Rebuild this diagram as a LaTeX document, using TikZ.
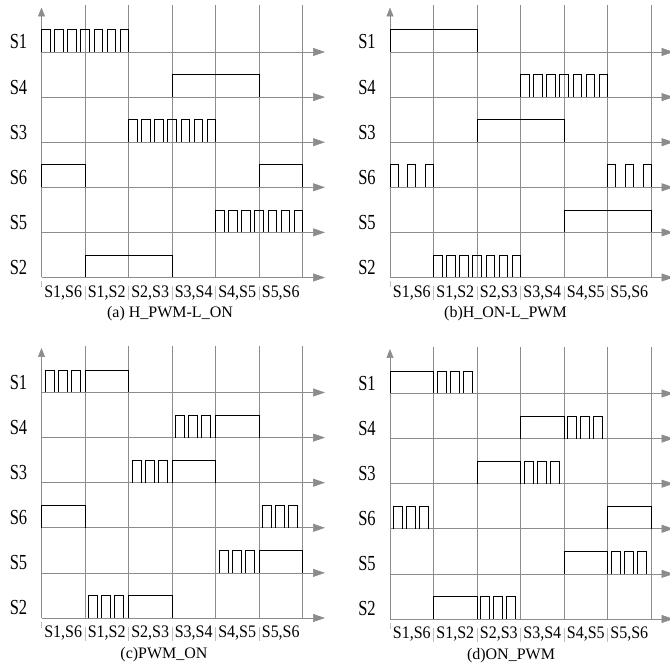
\documentclass[tikz,border=0pt]{standalone}
\usepackage{fontspec}
\setmainfont{Liberation Serif}
\usetikzlibrary{arrows.meta}

\colorlet{gridgray}{black!45}
\colorlet{sepgray}{black!25}

\newcommand{\colw}{43.5}
\newcommand{\rowh}{45.1}
\newcommand{\pulseh}{22.5}

% row #1 is high from column #2 to column #3
\newcommand{\onlevel}[3]{\draw[wave] ({#2*\colw},{#1*\rowh}) |- ({#3*\colw},{#1*\rowh+\pulseh}) -- ({#3*\colw},{#1*\rowh});}
% row #1, first pulse at x=#2, #3 pulses, high width #4, period #5
\newcommand{\pwmtrain}[5]{\foreach \k in {1,...,#3}{\draw[wave] ({#2+(\k-1)*#5},{#1*\rowh}) |- ++(#4,\pulseh) -- ++(0,-\pulseh);}}

\tikzset{
  grid/.style={draw=gridgray, line width=0.7pt},
  axis/.style={draw=gridgray, line width=0.7pt, -{Triangle[length=12pt,width=8pt]}},
  yarrow/.style={draw=gridgray, line width=0.7pt, -{Triangle[length=9pt,width=7pt]}},
  wave/.style={draw=black, line width=0.7pt},
  sep/.style={draw=sepgray, line width=0.6pt},
  sig/.style={font=\fontsize{16.5}{16.5}\selectfont, inner sep=0pt},
  phase/.style={font=\fontsize{16}{16}\selectfont, inner sep=0pt},
  caption/.style={font=\fontsize{16}{16}\selectfont, inner sep=0pt}
}

\begin{document}
\begin{tikzpicture}[x=1pt, y=1pt]
\useasboundingbox (0,0) rectangle (670,666);

% axes, grid and labels of the four panels
\foreach \p/\ox/\oy/\capx/\captext in {a/41.5/388.5/128.5/{(a) H\_PWM-L\_ON}, b/390/388.5/115.5/{(b)H\_ON-L\_PWM}, c/41.5/48/122.5/{(c)PWM\_ON}, d/390/47/121/{(d)ON\_PWM}}{
  \begin{scope}[shift={(\ox,\oy)}]
    \foreach \i in {1,...,6}
      \draw[grid] ({\i*\colw},0) -- ({\i*\colw},272);
    \foreach \r in {0,...,5}
      \draw[axis] (0,{\r*\rowh}) -- (283.5,{\r*\rowh});
    \draw[yarrow] (0,0) -- (0,270);
    \foreach \s [count=\r from 0] in {S2,S5,S6,S3,S4,S1}
      \node[sig] (\p-\s) at (-23,{\r*\rowh+10}) {\scalebox{1}[1.3]{\s}};
    \foreach \t [count=\i from 0] in {{S1,S6},{S1,S2},{S2,S3},{S3,S4},{S4,S5},{S5,S6}}
      \node[phase] (\p-t\i) at ({(\i+0.5)*\colw},-15.5) {\scalebox{1}[1.1]{\t}};
    \foreach \i in {1,...,5}
      \draw[sep] ({\i*\colw},-9) -- ({\i*\colw},-23);
    \draw[sep] (0,-4) -- (0,-10);
    \node[caption] (\p-cap) at (\capx,-36.5) {\captext};
  \end{scope}
}

% (a) H_PWM-L_ON
\begin{scope}[shift={(41.5,388.5)}]
  \pwmtrain{5}{0}{7}{8.5}{13.1}
  \onlevel{4}{3}{5}
  \pwmtrain{3}{2*\colw}{7}{8.5}{13.1}
  \onlevel{2}{0}{1}
  \onlevel{2}{5}{6}
  \pwmtrain{1}{4*\colw}{7}{8.5}{13.1}
  \onlevel{0}{1}{3}
\end{scope}

% (b) H_ON-L_PWM
\begin{scope}[shift={(390,388.5)}]
  \onlevel{5}{0}{2}
  \pwmtrain{4}{3*\colw}{7}{8.5}{13.1}
  \onlevel{3}{2}{4}
  \pwmtrain{2}{0}{3}{8}{17.75}
  \pwmtrain{2}{5*\colw}{3}{8}{17.75}
  \onlevel{1}{4}{6}
  \pwmtrain{0}{1*\colw}{7}{8.5}{13.1}
\end{scope}

% (c) PWM_ON
\begin{scope}[shift={(41.5,48)}]
  \pwmtrain{5}{0*\colw+3.5}{3}{9}{13}
  \onlevel{5}{1}{2}
  \pwmtrain{4}{3*\colw+3.5}{3}{9}{13}
  \onlevel{4}{4}{5}
  \pwmtrain{3}{2*\colw+3.5}{3}{9}{13}
  \onlevel{3}{3}{4}
  \onlevel{2}{0}{1}
  \pwmtrain{2}{5*\colw+3.5}{3}{9}{13}
  \pwmtrain{1}{4*\colw+3.5}{3}{9}{13}
  \onlevel{1}{5}{6}
  \pwmtrain{0}{1*\colw+3.5}{3}{9}{13}
  \onlevel{0}{2}{3}
\end{scope}

% (d) ON_PWM
\begin{scope}[shift={(390,47)}]
  \onlevel{5}{0}{1}
  \pwmtrain{5}{1*\colw+3.5}{3}{9}{13}
  \onlevel{4}{3}{4}
  \pwmtrain{4}{4*\colw+3.5}{3}{9}{13}
  \onlevel{3}{2}{3}
  \pwmtrain{3}{3*\colw+3.5}{3}{9}{13}
  \pwmtrain{2}{0*\colw+3.5}{3}{9}{13}
  \onlevel{2}{5}{6}
  \onlevel{1}{4}{5}
  \pwmtrain{1}{5*\colw+3.5}{3}{9}{13}
  \onlevel{0}{1}{2}
  \pwmtrain{0}{2*\colw+3.5}{3}{9}{13}
\end{scope}
\end{tikzpicture}
\end{document}
